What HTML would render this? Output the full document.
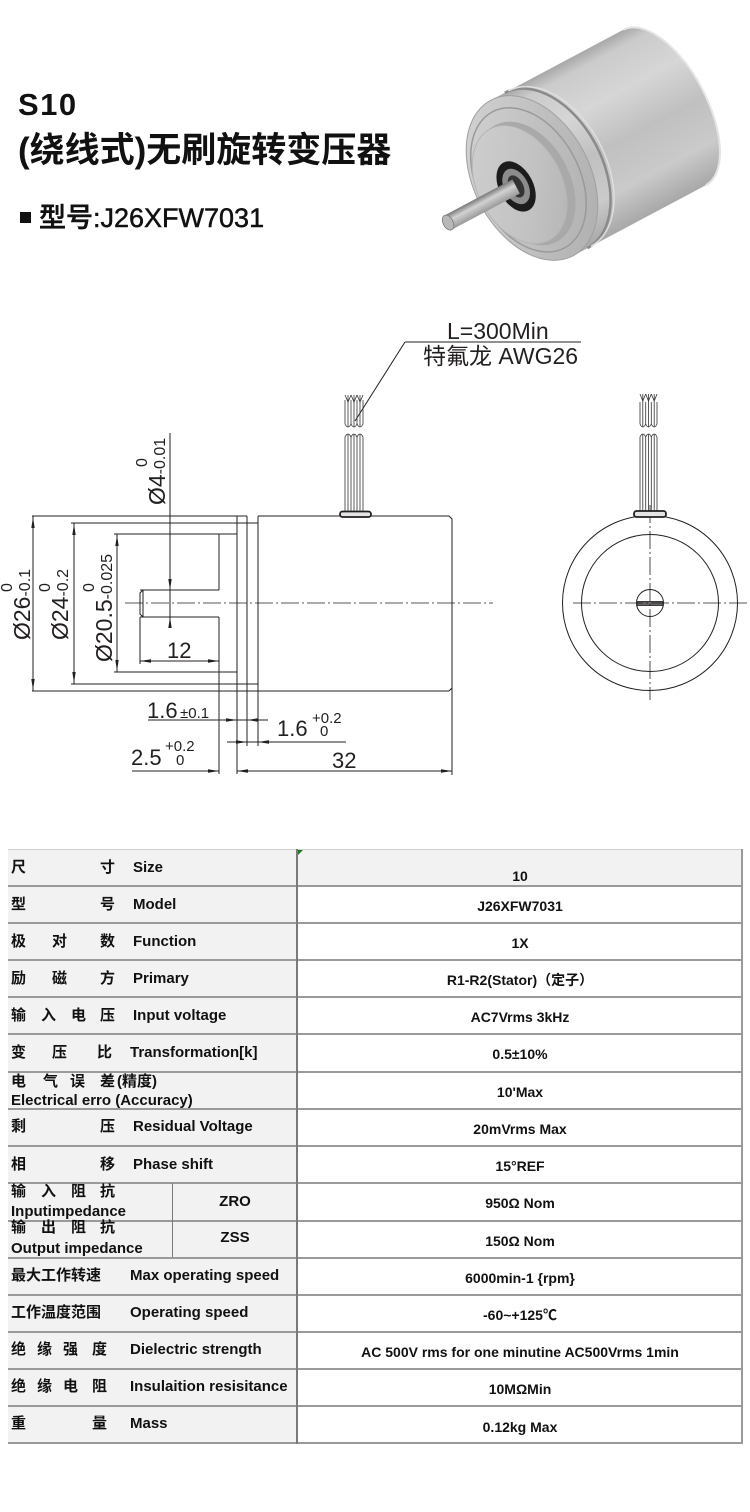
<!DOCTYPE html>
<html>
<head>
<meta charset="utf-8">
<style>
html,body{margin:0;padding:0;background:#fff;}
body{width:750px;height:1512px;position:relative;overflow:hidden;font-family:"Liberation Sans","Noto Sans CJK SC",sans-serif;}
.a{position:absolute;white-space:nowrap;font:bold 15px/20px "Liberation Sans","Noto Sans CJK SC",sans-serif;color:#111;}
.r{position:absolute;left:297px;width:446px;text-align:center;white-space:nowrap;font:bold 14px/20px "Liberation Sans","Noto Sans CJK SC",sans-serif;color:#111;}
.h{position:absolute;left:8px;width:735px;height:2px;background:#9a9a9a;}
</style>
</head>
<body>
<svg width="750" height="800" style="position:absolute;left:0;top:0" xmlns="http://www.w3.org/2000/svg">
<defs>
<linearGradient id="gBody" x1="0" y1="0" x2="0" y2="1">
<stop offset="0" stop-color="#a8a8a8"/><stop offset="0.08" stop-color="#cbcbcb"/><stop offset="0.3" stop-color="#d6d6d6"/><stop offset="0.55" stop-color="#c0c0c0"/><stop offset="0.8" stop-color="#cacaca"/><stop offset="1" stop-color="#a8a8a8"/>
</linearGradient>
<linearGradient id="gFace" x1="0" y1="0" x2="1" y2="1">
<stop offset="0" stop-color="#d6d6d6"/><stop offset="1" stop-color="#ababab"/>
</linearGradient>
<linearGradient id="gFace2" x1="0" y1="0" x2="1" y2="1">
<stop offset="0" stop-color="#d0d0d0"/><stop offset="0.6" stop-color="#c2c2c2"/><stop offset="1" stop-color="#b2b2b2"/>
</linearGradient>
<linearGradient id="gShaft" x1="0" y1="0" x2="0" y2="1">
<stop offset="0" stop-color="#7a7a7a"/><stop offset="0.4" stop-color="#d2d2d2"/><stop offset="1" stop-color="#999"/>
</linearGradient>
</defs>

<!-- Header -->
<text x="18" y="115" font-size="31" font-weight="bold" letter-spacing="1.5" font-family="Liberation Sans, Noto Sans CJK SC, sans-serif" fill="#111">S10</text>
<text x="18" y="162" font-size="35" font-weight="bold" font-family="Liberation Sans, Noto Sans CJK SC, sans-serif" fill="#111">(绕线式)无刷旋转变压器</text>
<rect x="20" y="212" width="11" height="11" fill="#111"/>
<text x="39" y="227" font-size="27" font-weight="500" stroke="#111" stroke-width="0.5" font-family="Liberation Sans, Noto Sans CJK SC, sans-serif" fill="#111">型号:J26XFW7031</text>

<!-- Product -->
<g transform="translate(532,178) rotate(-28)">
<path d="M0,-88 L150,-88 A42,88 0 0 1 150,88 L0,88 Z" fill="url(#gBody)"/>
<path d="M150,-88 A42,88 0 0 1 150,88" fill="none" stroke="#e4e4e4" stroke-width="2"/>
<path d="M16,-88 A56,88 0 0 1 16,88" fill="none" stroke="#8a8a8a" stroke-width="2.5"/>
<path d="M20,-88 A56,88 0 0 1 20,88" fill="none" stroke="#dedede" stroke-width="1.5"/>
<ellipse cx="0" cy="0" rx="58" ry="88" fill="url(#gFace)" stroke="#a0a0a0"/>
<ellipse cx="-4" cy="0" rx="51" ry="77" fill="none" stroke="#9a9a9a" stroke-width="1.5"/>
<ellipse cx="-8" cy="2" rx="44" ry="66" fill="#a9a9a9"/>
<ellipse cx="-14" cy="0" rx="42" ry="63" fill="url(#gFace2)" stroke="#b5b5b5"/>
<ellipse cx="-18" cy="0" rx="17" ry="27" fill="#1c1c1c"/>
<ellipse cx="-18" cy="0" rx="12" ry="19" fill="#8c8c8c"/>
<ellipse cx="-18" cy="0" rx="7" ry="12" fill="#333"/>
<rect x="-95" y="-8" width="77" height="16" fill="url(#gShaft)"/>
<ellipse cx="-95" cy="0" rx="5" ry="8" fill="#b8b8b8" stroke="#7a7a7a" stroke-width="0.8"/>
</g>

<!-- Drawing: left view -->
<g stroke="#231f20" stroke-width="1" fill="none">
<line x1="32" y1="516" x2="247" y2="516"/>
<path d="M258,516 H449 L452,519 V688 L449,691"/>
<line x1="32" y1="691" x2="449" y2="691"/>
<line x1="452" y1="688" x2="452" y2="775"/>
<line x1="237" y1="516" x2="237" y2="774"/>
<line x1="247" y1="516" x2="247" y2="746"/>
<line x1="258" y1="516" x2="258" y2="746"/>
<line x1="71" y1="523" x2="258" y2="523"/>
<line x1="71" y1="684" x2="258" y2="684"/>
<line x1="114" y1="534" x2="237" y2="534"/>
<line x1="114" y1="672" x2="237" y2="672"/>
<line x1="219" y1="534" x2="219" y2="590"/>
<line x1="219" y1="617" x2="219" y2="774"/>
<line x1="140" y1="590" x2="219" y2="590"/>
<line x1="140" y1="617" x2="219" y2="617"/>
<path d="M143,590 L140,593 V614 L143,617"/>
<line x1="143" y1="590" x2="143" y2="617"/>
<line x1="140" y1="617" x2="140" y2="664"/>
<!-- dimension lines -->
<line x1="33" y1="516" x2="33" y2="691"/>
<line x1="74" y1="523" x2="74" y2="684"/>
<line x1="117" y1="534" x2="117" y2="672"/>
<line x1="170" y1="433" x2="170" y2="628"/>
<line x1="140" y1="661" x2="219" y2="661"/>
<line x1="148" y1="720" x2="268" y2="720"/>
<line x1="227" y1="742" x2="346" y2="742"/>
<line x1="132" y1="771" x2="219" y2="771"/>
<line x1="237" y1="771" x2="452" y2="771"/>
<!-- leader -->
<line x1="405" y1="342" x2="581" y2="342"/>
<line x1="405" y1="342" x2="355" y2="421"/>
</g>
<line x1="125" y1="603" x2="493" y2="603" stroke="#231f20" stroke-width="0.8" stroke-dasharray="18 3 2 3"/>

<!-- arrows -->
<g fill="#231f20">
<polygon points="33,517 31.3,528 34.7,528"/>
<polygon points="33,690 31.3,679 34.7,679"/>
<polygon points="74,524 72.3,535 75.7,535"/>
<polygon points="74,683 72.3,672 75.7,672"/>
<polygon points="117,535 115.3,546 118.7,546"/>
<polygon points="117,671 115.3,660 118.7,660"/>
<polygon points="170,590 168.3,579 171.7,579"/>
<polygon points="170,617 168.3,628 171.7,628"/>
<polygon points="140,661 151,659.3 151,662.7"/>
<polygon points="219,661 208,659.3 208,662.7"/>
<polygon points="237,720 226,718.3 226,721.7"/>
<polygon points="247,720 258,718.3 258,721.7"/>
<polygon points="247,742 236,740.3 236,743.7"/>
<polygon points="258,742 269,740.3 269,743.7"/>
<polygon points="219,771 208,769.3 208,772.7"/>
<polygon points="237,771 248,769.3 248,772.7"/>
<polygon points="452,771 441,769.3 441,772.7"/>
</g>

<!-- wires left -->
<g stroke="#333" stroke-width="0.8" fill="none">
<line x1="345" y1="437" x2="345" y2="511"/><line x1="351" y1="437" x2="351" y2="511"/>
<line x1="357" y1="437" x2="357" y2="511"/><line x1="363" y1="437" x2="363" y2="511"/>
<path d="M345,437 Q348,431 351,437 Q354,431 357,437 Q360,431 363,437"/>
<line x1="345" y1="400" x2="345" y2="424"/><line x1="351" y1="400" x2="351" y2="424"/>
<line x1="357" y1="400" x2="357" y2="424"/><line x1="363" y1="400" x2="363" y2="424"/>
<path d="M345,424 Q348,430 351,424 Q354,430 357,424 Q360,430 363,424"/>
<path d="M345,395 L348,402 L351,395 M351,395 L354,402 L357,395 M357,395 L360,402 L363,395"/>
<line x1="348" y1="395" x2="348" y2="427"/><line x1="354" y1="395" x2="354" y2="427"/><line x1="360" y1="395" x2="360" y2="427"/>
<line x1="348" y1="434" x2="348" y2="511"/><line x1="354" y1="434" x2="354" y2="511"/><line x1="360" y1="434" x2="360" y2="511"/>
</g>
<rect x="340" y="511.5" width="31" height="5.5" rx="2.5" fill="#e4e4e4" stroke="#231f20" stroke-width="1.8"/>

<!-- right view -->
<g stroke="#231f20" stroke-width="1" fill="none">
<circle cx="650" cy="603" r="87.5"/>
<circle cx="650" cy="603" r="68.5"/>
<circle cx="650" cy="603" r="13.5"/>
</g>
<rect x="637" y="601.5" width="26" height="4" fill="#666" stroke="#231f20" stroke-width="0.8"/>
<line x1="573" y1="603" x2="750" y2="603" stroke="#231f20" stroke-width="0.8" stroke-dasharray="18 3 2 3"/>
<line x1="650" y1="505" x2="650" y2="700" stroke="#231f20" stroke-width="0.8" stroke-dasharray="18 3 2 3"/>
<g stroke="#333" stroke-width="0.8" fill="none">
<line x1="640" y1="437" x2="640" y2="511"/><line x1="645.7" y1="437" x2="645.7" y2="511"/>
<line x1="651.3" y1="437" x2="651.3" y2="511"/><line x1="657" y1="437" x2="657" y2="511"/>
<path d="M640,437 Q642.8,431 645.7,437 Q648.5,431 651.3,437 Q654.2,431 657,437"/>
<line x1="640" y1="402" x2="640" y2="424"/><line x1="645.7" y1="402" x2="645.7" y2="424"/>
<line x1="651.3" y1="402" x2="651.3" y2="424"/><line x1="657" y1="402" x2="657" y2="424"/>
<path d="M640,424 Q642.8,430 645.7,424 Q648.5,430 651.3,424 Q654.2,430 657,424"/>
<path d="M640,394 L642.8,401 L645.7,394 M645.7,394 L648.5,401 L651.3,394 M651.3,394 L654.2,401 L657,394"/>
<line x1="642.8" y1="394" x2="642.8" y2="427"/><line x1="648.5" y1="394" x2="648.5" y2="427"/><line x1="654.2" y1="394" x2="654.2" y2="427"/>
<line x1="642.8" y1="434" x2="642.8" y2="511"/><line x1="648.5" y1="434" x2="648.5" y2="511"/><line x1="654.2" y1="434" x2="654.2" y2="511"/>
</g>
<rect x="634" y="511" width="32" height="6" rx="2.5" fill="#e4e4e4" stroke="#231f20" stroke-width="1.8"/>

<!-- dimension text -->
<g font-family="Liberation Sans, Noto Sans CJK SC, sans-serif" fill="#231f20">
<text x="447" y="339" font-size="23">L=300Min</text>
<text x="423" y="364" font-size="23">特氟龙 AWG26</text>
<text x="167" y="658" font-size="22">12</text>
<text x="147" y="718" font-size="22">1.6</text>
<text x="180" y="718" font-size="15">±0.1</text>
<text x="277" y="736" font-size="22">1.6</text>
<text x="312" y="723" font-size="15">+0.2</text>
<text x="320" y="736" font-size="15">0</text>
<text x="131" y="765" font-size="22">2.5</text>
<text x="165" y="751" font-size="15">+0.2</text>
<text x="176" y="765" font-size="15">0</text>
<text x="332" y="768" font-size="22">32</text>

<text transform="translate(165,505) rotate(-90)" font-size="23">Ø4<tspan font-size="16">-0.01</tspan></text>
<text transform="translate(147,505) rotate(-90)" x="38" font-size="16">0</text>

<text transform="translate(30,640) rotate(-90)" font-size="23">Ø26<tspan font-size="16">-0.1</tspan></text>
<text transform="translate(12,640) rotate(-90)" x="48" font-size="16">0</text>

<text transform="translate(68,640) rotate(-90)" font-size="23">Ø24<tspan font-size="16">-0.2</tspan></text>
<text transform="translate(50,640) rotate(-90)" x="48" font-size="16">0</text>

<text transform="translate(112,662) rotate(-90)" font-size="23">Ø20.5<tspan font-size="16">-0.025</tspan></text>
<text transform="translate(94,662) rotate(-90)" x="70" font-size="16">0</text>
</g>
</svg>

<!-- Table -->
<div style="position:absolute;left:8px;top:849px;width:289px;height:594px;background:#f2f2f2"></div>
<div style="position:absolute;left:297px;top:849px;width:446px;height:37px;background:#f2f2f2"></div>
<div style="position:absolute;left:8px;top:849px;width:735px;height:1px;background:#cfcfcf"></div>
<div class="h" style="top:885px"></div>
<div class="h" style="top:922px"></div>
<div class="h" style="top:959px"></div>
<div class="h" style="top:996px"></div>
<div class="h" style="top:1033px"></div>
<div class="h" style="top:1071px"></div>
<div class="h" style="top:1108px"></div>
<div class="h" style="top:1145px"></div>
<div class="h" style="top:1182px"></div>
<div class="h" style="top:1220px"></div>
<div class="h" style="top:1257px"></div>
<div class="h" style="top:1294px"></div>
<div class="h" style="top:1331px"></div>
<div class="h" style="top:1368px"></div>
<div class="h" style="top:1405px"></div>
<div class="h" style="top:1442px"></div>
<div style="position:absolute;left:296px;top:849px;width:2px;height:595px;background:#7a7a7a"></div>
<div style="position:absolute;left:741px;top:849px;width:2px;height:595px;background:#9a9a9a"></div>
<div style="position:absolute;left:172px;top:1183px;width:1px;height:74px;background:#7a7a7a"></div>
<svg width="8" height="8" style="position:absolute;left:298px;top:850px"><polygon points="0,0 5,0 0,5" fill="#1a7a1a"/></svg>

<!-- left column texts -->
<div class="a" style="left:11px;top:858px">尺</div><div class="a" style="left:100px;top:858px">寸</div><div class="a" style="left:133px;top:858px">Size</div>
<div class="a" style="left:11px;top:895px">型</div><div class="a" style="left:100px;top:895px">号</div><div class="a" style="left:133px;top:895px">Model</div>
<div class="a" style="left:11px;top:932px">极</div><div class="a" style="left:52px;top:932px">对</div><div class="a" style="left:100px;top:932px">数</div><div class="a" style="left:133px;top:932px">Function</div>
<div class="a" style="left:11px;top:969px">励</div><div class="a" style="left:52px;top:969px">磁</div><div class="a" style="left:100px;top:969px">方</div><div class="a" style="left:133px;top:969px">Primary</div>
<div class="a" style="left:11px;top:1006px">输</div><div class="a" style="left:41px;top:1006px">入</div><div class="a" style="left:71px;top:1006px">电</div><div class="a" style="left:100px;top:1006px">压</div><div class="a" style="left:133px;top:1006px">Input voltage</div>
<div class="a" style="left:11px;top:1043px">变</div><div class="a" style="left:52px;top:1043px">压</div><div class="a" style="left:97px;top:1043px">比</div><div class="a" style="left:130px;top:1043px">Transformation[k]</div>
<div class="a" style="left:11px;top:1072px">电</div><div class="a" style="left:43px;top:1072px">气</div><div class="a" style="left:70px;top:1072px">误</div><div class="a" style="left:100px;top:1072px">差</div><div class="a" style="left:117px;top:1072px">(精度)</div>
<div class="a" style="left:11px;top:1091px">Electrical erro (Accuracy)</div>
<div class="a" style="left:11px;top:1117px">剩</div><div class="a" style="left:100px;top:1117px">压</div><div class="a" style="left:133px;top:1117px">Residual Voltage</div>
<div class="a" style="left:11px;top:1155px">相</div><div class="a" style="left:100px;top:1155px">移</div><div class="a" style="left:133px;top:1155px">Phase shift</div>
<div class="a" style="left:11px;top:1182px">输</div><div class="a" style="left:41px;top:1182px">入</div><div class="a" style="left:71px;top:1182px">阻</div><div class="a" style="left:100px;top:1182px">抗</div>
<div class="a" style="left:11px;top:1202px">Inputimpedance</div>
<div class="a" style="left:173px;top:1192px;width:124px;text-align:center">ZRO</div>
<div class="a" style="left:11px;top:1218px">输</div><div class="a" style="left:41px;top:1218px">出</div><div class="a" style="left:71px;top:1218px">阻</div><div class="a" style="left:100px;top:1218px">抗</div>
<div class="a" style="left:11px;top:1239px">Output impedance</div>
<div class="a" style="left:173px;top:1228px;width:124px;text-align:center">ZSS</div>
<div class="a" style="left:11px;top:1266px">最大工作转速</div><div class="a" style="left:130px;top:1266px">Max operating speed</div>
<div class="a" style="left:11px;top:1303px">工作温度范围</div><div class="a" style="left:130px;top:1303px">Operating speed</div>
<div class="a" style="left:11px;top:1340px">绝</div><div class="a" style="left:37px;top:1340px">缘</div><div class="a" style="left:63px;top:1340px">强</div><div class="a" style="left:92px;top:1340px">度</div><div class="a" style="left:130px;top:1340px">Dielectric strength</div>
<div class="a" style="left:11px;top:1377px">绝</div><div class="a" style="left:37px;top:1377px">缘</div><div class="a" style="left:63px;top:1377px">电</div><div class="a" style="left:92px;top:1377px">阻</div><div class="a" style="left:130px;top:1377px">Insulaition resisitance</div>
<div class="a" style="left:11px;top:1414px">重</div><div class="a" style="left:92px;top:1414px">量</div><div class="a" style="left:130px;top:1414px">Mass</div>

<!-- right column texts -->
<div class="r" style="top:866px">10</div>
<div class="r" style="top:896px">J26XFW7031</div>
<div class="r" style="top:933px">1X</div>
<div class="r" style="top:970px">R1-R2(Stator)（定子）</div>
<div class="r" style="top:1007px">AC7Vrms 3kHz</div>
<div class="r" style="top:1044px">0.5±10%</div>
<div class="r" style="top:1082px">10'Max</div>
<div class="r" style="top:1119px">20mVrms Max</div>
<div class="r" style="top:1156px">15°REF</div>
<div class="r" style="top:1193px">950Ω Nom</div>
<div class="r" style="top:1231px">150Ω Nom</div>
<div class="r" style="top:1268px">6000min-1 {rpm}</div>
<div class="r" style="top:1305px">-60~+125℃</div>
<div class="r" style="top:1342px">AC 500V rms for one minutine AC500Vrms 1min</div>
<div class="r" style="top:1379px">10MΩMin</div>
<div class="r" style="top:1417px">0.12kg Max</div>
</body>
</html>
